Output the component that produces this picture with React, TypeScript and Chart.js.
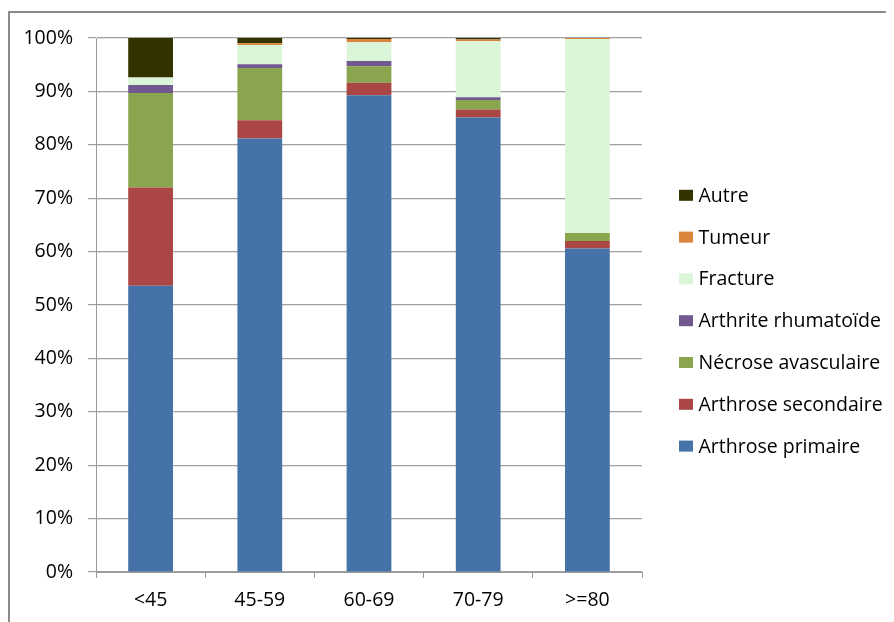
import React, { useEffect, useRef } from "react";
import { Chart, registerables } from "chart.js";

Chart.register(...registerables);

const categories = ["<45", "45-59", "60-69", "70-79", ">=80"];
const arthrosePrimaire = [53.6, 81.2, 89.3, 85.1, 60.6];
const arthroseSecondaire = [18.4, 3.4, 2.3, 1.5, 1.4];
const necroseAvasculaire = [17.7, 9.8, 3.1, 1.8, 1.5];
const arthriteRhumatoide = [1.5, 0.7, 1.0, 0.5, 0.0];
const fracture = [1.4, 3.6, 3.5, 10.5, 36.3];
const tumeur = [0.0, 0.3, 0.6, 0.3, 0.2];
const autre = [7.4, 1.0, 0.2, 0.3, 0.0];
const yTicks = [0, 10, 20, 30, 40, 50, 60, 70, 80, 90, 100];

const FONT = "'Open Sans', 'Noto Sans', sans-serif";
const FONT_SIZE = 19.5;

const LEGEND_X = 671;
const LEGEND_TOP = 187.3;
const LEGEND_GAP = 41.8;

const sideLegend = {
  id: "sideLegend",
  afterDraw(chart: any) {
    const ctx = chart.ctx;
    const ds = chart.data.datasets;
    const n = ds.length;
    ctx.save();
    ctx.font = `${FONT_SIZE}px ${FONT}`;
    ctx.textBaseline = "middle";
    ctx.textAlign = "left";
    for (let i = 0; i < n; i++) {
      const d = ds[n - 1 - i];
      const y = LEGEND_TOP + i * LEGEND_GAP;
      ctx.fillStyle = d.backgroundColor;
      ctx.fillRect(LEGEND_X, y - 5.5, 14, 11);
      ctx.fillStyle = "#000";
      ctx.fillText(d.label, LEGEND_X + 19.5, y + 1);
    }
    ctx.restore();
  },
};

export default function App() {
  const ref = useRef<HTMLCanvasElement | null>(null);

  useEffect(() => {
    if (!ref.current) return;
    const chart = new Chart(ref.current, {
      type: "bar",
      data: {
        labels: categories,
        datasets: [
          { label: "Arthrose primaire", data: arthrosePrimaire, backgroundColor: "#4572A7" },
          { label: "Arthrose secondaire", data: arthroseSecondaire, backgroundColor: "#AA4643" },
          { label: "Nécrose avasculaire", data: necroseAvasculaire, backgroundColor: "#89A54E" },
          { label: "Arthrite rhumatoïde", data: arthriteRhumatoide, backgroundColor: "#71588F" },
          { label: "Fracture", data: fracture, backgroundColor: "#DBF5D8" },
          { label: "Tumeur", data: tumeur, backgroundColor: "#DB843D" },
          { label: "Autre", data: autre, backgroundColor: "#333300" },
        ],
      },
      options: {
        responsive: false,
        animation: false,
        layout: { padding: { left: 0, top: 30, right: 252, bottom: 0 } },
        datasets: {
          bar: { categoryPercentage: 1, barPercentage: 0.41, borderWidth: 0 },
        },
        plugins: {
          legend: { display: false },
          tooltip: { enabled: false },
        },
        scales: {
          x: {
            stacked: true,
            afterFit: (s: any) => {
              s.height = 50;
            },
            grid: {
              display: true,
              drawOnChartArea: false,
              drawTicks: true,
              tickLength: 6,
              offset: true,
              color: "#999",
            },
            border: { display: true, color: "#999", width: 1 },
            ticks: {
              color: "#000",
              font: { family: FONT, size: FONT_SIZE },
              padding: 11,
            },
          },
          y: {
            stacked: true,
            min: 0,
            max: 100,
            afterFit: (s: any) => {
              s.width = 88;
            },
            afterBuildTicks: (s: any) => {
              s.ticks = yTicks.map((v) => ({ value: v }));
            },
            grid: {
              color: "#a0a0a0",
              lineWidth: 1.2,
              drawTicks: true,
              tickLength: 8,
            },
            border: { display: true, color: "#999", width: 1 },
            ticks: {
              color: "#000",
              font: { family: FONT, size: FONT_SIZE },
              padding: 15,
              callback: (v: any) => `${v}%`,
            },
          },
        },
      },
      plugins: [sideLegend],
    });
    return () => chart.destroy();
  }, []);

  return (
    <div style={{ position: "relative", width: 886, height: 614, background: "#fff" }}>
      <canvas ref={ref} width={886} height={614} style={{ display: "block", width: 886, height: 614 }} />
      <div
        style={{
          position: "absolute",
          left: 0,
          top: 3,
          right: 0,
          bottom: 0,
          borderLeft: "2px solid #8a8a8a",
          borderTop: "2px solid #8a8a8a",
          pointerEvents: "none",
        }}
      />
    </div>
  );
}
